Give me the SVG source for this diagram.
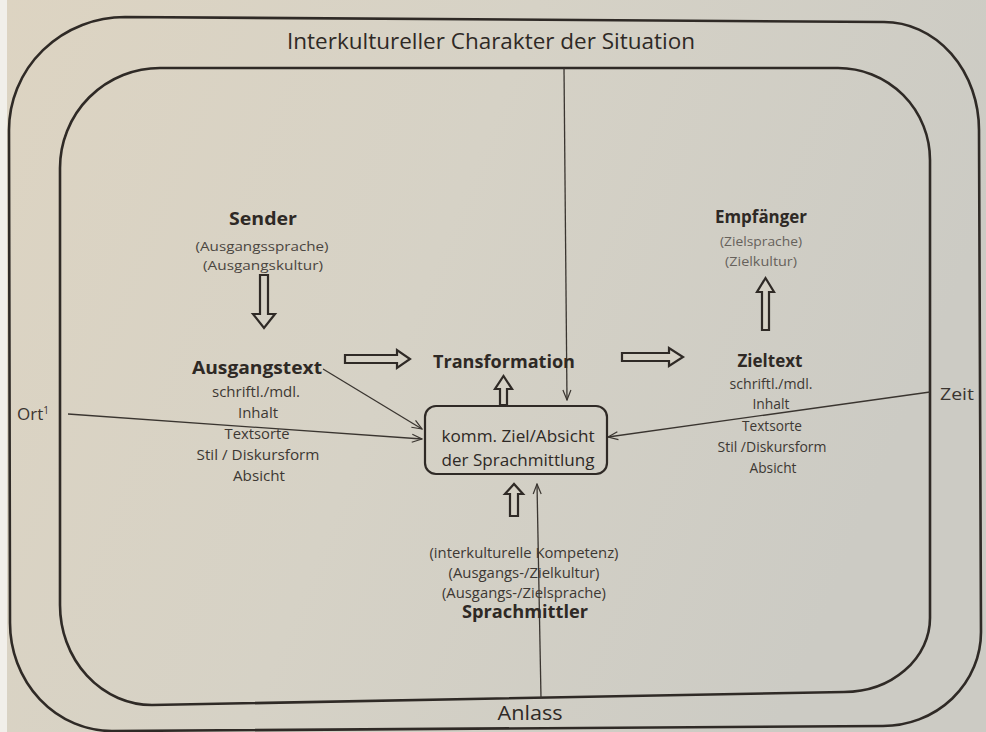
<svg xmlns="http://www.w3.org/2000/svg" width="986" height="732" viewBox="0 0 986 732">
<defs>
<linearGradient id="bg" x1="0" y1="0" x2="1" y2="0.3">
<stop offset="0" stop-color="#ddd4c2"/>
<stop offset="0.5" stop-color="#d6d2c6"/>
<stop offset="1" stop-color="#cccbc4"/>
</linearGradient>
<marker id="tip" viewBox="0 0 12 10" refX="11" refY="5" markerWidth="12" markerHeight="10" markerUnits="userSpaceOnUse" orient="auto">
<path d="M1,1 L11,5 L1,9" fill="none" stroke="#3a3530" stroke-width="1.2"/>
</marker>
<style>
.frame{fill:none;stroke:#2f2a26;stroke-width:2.6}
.thin{fill:none;stroke:#3a3530;stroke-width:1.3}
.block{fill:#d6d2c6;stroke:#2f2a26;stroke-width:2.2;stroke-linejoin:miter}
.t{font-family:"Open Sans","Liberation Sans",sans-serif;fill:#2e2925;text-anchor:middle}
.h{font-weight:700;font-size:17px}
.s{font-size:14px;fill:#3d3833}
.p{font-size:13px;fill:#4a4540}
.l{font-size:12px;fill:#66615b}
</style>
</defs>
<rect width="986" height="732" fill="url(#bg)"/>
<rect width="7" height="732" fill="#f1efea"/>

<g id="frames">
<path class="frame" d="M125,17 L884,22 A95 108 0 0 1 979,130 L981,632 A98 94 0 0 1 883,726 L112,731 A102 108 0 0 1 10,623 L9,130 A116 113 0 0 1 125,17 Z"/>
<path class="frame" d="M160,68 L838,68 A92 92 0 0 1 930,160 L930,618 A86 74 0 0 1 844,692 L152,705 A92 100 0 0 1 60,605 L60,168 A100 100 0 0 1 160,68 Z"/>
<text class="t" x="491" y="49" font-size="21" fill="#3a3530" textLength="408" lengthAdjust="spacingAndGlyphs">Interkultureller Charakter der Situation</text>
</g>

<g id="connectors">
<line class="thin" x1="564" y1="68" x2="567" y2="400" marker-end="url(#tip)"/>
<line class="thin" x1="323" y1="369" x2="422" y2="429" marker-end="url(#tip)"/>
<line class="thin" x1="68" y1="414" x2="422" y2="439" marker-end="url(#tip)"/>
<line class="thin" x1="930" y1="392" x2="608" y2="437" marker-end="url(#tip)"/>
<line class="thin" x1="541" y1="698" x2="537" y2="484" marker-end="url(#tip)"/>
<polygon class="block" points="345,355 397,355 397,350 410,359 397,368 397,363 345,363"/>
<polygon class="block" points="622,353 669,353 669,348 683,357 669,366 669,361 622,361"/>
<polygon class="block" points="500,405 500,389 495,389 503.5,376 512,389 507,389 507,405"/>
<polygon class="block" points="260,275 268,275 268,314 275,314 264,328 253,314 260,314"/>
<polygon class="block" points="762,330 762,292 757,292 765.5,278 774,292 769,292 769,330"/>
<polygon class="block" points="510,516 510,494 505,494 514,484 523,494 518,494 518,516"/>
</g>

<g id="sender">
<text class="t h" x="263" y="225" textLength="68" lengthAdjust="spacingAndGlyphs">Sender</text>
<text class="t p" x="262" y="251" textLength="133" lengthAdjust="spacingAndGlyphs">(Ausgangssprache)</text>
<text class="t p" x="263" y="270" textLength="120" lengthAdjust="spacingAndGlyphs">(Ausgangskultur)</text>
</g>

<g id="ausgangstext">
<text class="t h" x="257" y="374" font-size="18" textLength="130" lengthAdjust="spacingAndGlyphs">Ausgangstext</text>
<text class="t s" x="256" y="397" textLength="88" lengthAdjust="spacingAndGlyphs">schriftl./mdl.</text>
<text class="t s" x="258" y="418" textLength="40" lengthAdjust="spacingAndGlyphs">Inhalt</text>
<text class="t s" x="257" y="439" textLength="65" lengthAdjust="spacingAndGlyphs">Textsorte</text>
<text class="t s" x="258" y="460" textLength="123" lengthAdjust="spacingAndGlyphs">Stil / Diskursform</text>
<text class="t s" x="259" y="481" textLength="52" lengthAdjust="spacingAndGlyphs">Absicht</text>
</g>

<g id="transformation">
<text class="t h" x="504" y="368" font-size="18" textLength="142" lengthAdjust="spacingAndGlyphs">Transformation</text>
</g>

<g id="ziel">
<rect x="425" y="406" width="182" height="68" rx="11" fill="none" stroke="#2f2a26" stroke-width="2.2"/>
<text class="t" x="518" y="442" font-size="15.5" textLength="153" lengthAdjust="spacingAndGlyphs">komm. Ziel/Absicht</text>
<text class="t" x="518" y="466" font-size="15.5" textLength="153" lengthAdjust="spacingAndGlyphs">der Sprachmittlung</text>
</g>

<g id="empfaenger">
<text class="t h" x="761" y="223" textLength="92" lengthAdjust="spacingAndGlyphs">Empfänger</text>
<text class="t l" x="761" y="246" textLength="82" lengthAdjust="spacingAndGlyphs">(Zielsprache)</text>
<text class="t l" x="761" y="266" textLength="72" lengthAdjust="spacingAndGlyphs">(Zielkultur)</text>
</g>

<g id="zieltext">
<text class="t h" x="770" y="367" textLength="65" lengthAdjust="spacingAndGlyphs">Zieltext</text>
<text class="t s" x="771" y="389" font-size="13" textLength="83" lengthAdjust="spacingAndGlyphs">schriftl./mdl.</text>
<text class="t s" x="771" y="409" font-size="13" textLength="37" lengthAdjust="spacingAndGlyphs">Inhalt</text>
<text class="t s" x="772" y="431" font-size="13" textLength="60" lengthAdjust="spacingAndGlyphs">Textsorte</text>
<text class="t s" x="772" y="452" font-size="13" textLength="109" lengthAdjust="spacingAndGlyphs">Stil /Diskursform</text>
<text class="t s" x="773" y="473" font-size="13" textLength="47" lengthAdjust="spacingAndGlyphs">Absicht</text>
</g>

<g id="sprachmittler">
<text class="t s" x="524" y="558" font-size="13.5" textLength="189" lengthAdjust="spacingAndGlyphs">(interkulturelle Kompetenz)</text>
<text class="t s" x="524" y="578" font-size="13.5" textLength="151" lengthAdjust="spacingAndGlyphs">(Ausgangs-/Zielkultur)</text>
<text class="t s" x="524" y="598" font-size="13.5" textLength="164" lengthAdjust="spacingAndGlyphs">(Ausgangs-/Zielsprache)</text>
<text class="t h" x="525" y="618" font-size="18" textLength="126" lengthAdjust="spacingAndGlyphs">Sprachmittler</text>
</g>

<g id="ort">
<text x="17" y="420" font-family="Open Sans, Liberation Sans, sans-serif" font-size="17" fill="#3a3530">Ort<tspan font-size="10" dy="-6">1</tspan></text>
</g>
<g id="zeit">
<text x="940" y="400" font-family="Open Sans, Liberation Sans, sans-serif" font-size="16" fill="#3a3530" textLength="34" lengthAdjust="spacingAndGlyphs">Zeit</text>
</g>
<g id="anlass">
<text class="t" x="530" y="720" font-size="20" fill="#3a3530" textLength="65" lengthAdjust="spacingAndGlyphs">Anlass</text>
</g>
</svg>
